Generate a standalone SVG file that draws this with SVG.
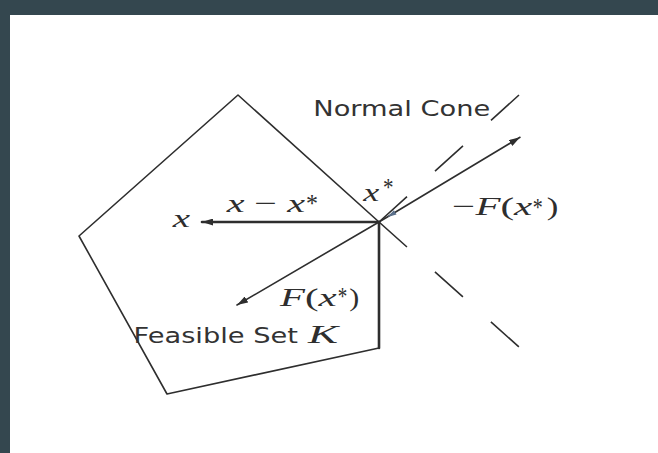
<svg xmlns="http://www.w3.org/2000/svg" width="658" height="453" viewBox="0 0 658 453">
  <style>
    .edge { fill: none; stroke: #2e2e2e; stroke-width: 1.6; stroke-linecap: round; stroke-linejoin: round; }
    .thick { stroke-width: 2.6; }
    .cone { fill: none; stroke: #2e2e2e; stroke-width: 1.6; }
    .math { font-family: "Liberation Serif", "Times New Roman", serif; font-style: italic; font-size: 26px; fill: #2e2e2e; }
    .up { font-style: normal; }
    .star { font-family: "Liberation Serif", "Times New Roman", serif; font-size: 26px; fill: #2e2e2e; }
    .sans { font-family: "DejaVu Sans", Verdana, sans-serif; fill: #333333; }
  </style>
  <defs>
    <marker id="arrow" markerUnits="userSpaceOnUse" markerWidth="11" markerHeight="7" refX="11" refY="3.5" orient="auto">
      <path d="M0,0 L11,3.5 L0,7 Z" fill="#2e2e2e"/>
    </marker>
  </defs>

  <rect x="0" y="0" width="658" height="453" fill="#ffffff"/>
  <g id="frame">
    <rect x="0" y="0" width="658" height="15" fill="#34474f"/>
    <rect x="0" y="0" width="10" height="453" fill="#34474f"/>
  </g>

  <g id="feasible-set">
    <path class="edge" d="M379,222 L238,95 L79,236 L167,394 L379,348"/>
    <path class="edge thick" d="M379,222 L379,348"/>
    <text class="sans" x="133.5" y="343.3" font-size="22" textLength="164.5" lengthAdjust="spacingAndGlyphs">Feasible Set</text>
    <text class="math" x="308" y="343.3" textLength="30" lengthAdjust="spacingAndGlyphs">K</text>
  </g>

  <g id="normal-cone">
    <line class="cone" x1="379" y1="222" x2="519" y2="347" stroke-dasharray="37.5 37.5"/>
    <line class="cone" x1="379" y1="222" x2="519" y2="95" stroke-dasharray="37.8 37.8"/>
    <text class="sans" x="313.3" y="115.7" font-size="20.5" textLength="177" lengthAdjust="spacingAndGlyphs">Normal Cone</text>
  </g>

  <g id="connectors">
    <line class="edge thick" x1="379" y1="222" x2="202" y2="222" marker-end="url(#arrow)"/>
    <line class="edge" x1="379" y1="222" x2="237" y2="305" marker-end="url(#arrow)"/>
    <line class="edge" x1="379" y1="222" x2="520" y2="137.3" marker-end="url(#arrow)"/>
    <polygon points="387.5,217 396.5,214.5 393.9,210.3" fill="#5a6f8a"/>
  </g>

  <g id="labels">
    <text class="math" x="172.7" y="227" textLength="17.3" lengthAdjust="spacingAndGlyphs">x</text>

    <text class="math" x="226.7" y="212.3" textLength="78.3" lengthAdjust="spacingAndGlyphs">x<tspan class="up"> − </tspan>x</text>
    <text class="star" x="306" y="212.2" textLength="12" lengthAdjust="spacingAndGlyphs">*</text>

    <text class="math" x="363.3" y="201" textLength="16" lengthAdjust="spacingAndGlyphs">x</text>
    <text class="star" x="383" y="196.4" textLength="10.5" lengthAdjust="spacingAndGlyphs">*</text>

    <text class="math" x="452.3" y="215" textLength="80" lengthAdjust="spacingAndGlyphs"><tspan class="up">−</tspan>F<tspan class="up">(</tspan>x</text>
    <text class="star" x="532.7" y="216.4" textLength="10" lengthAdjust="spacingAndGlyphs">*</text>
    <text class="math up" x="546.7" y="215" textLength="11.6" lengthAdjust="spacingAndGlyphs">)</text>

    <text class="math" x="280" y="306.3" textLength="56.7" lengthAdjust="spacingAndGlyphs">F<tspan class="up">(</tspan>x</text>
    <text class="star" x="337.7" y="304.7" textLength="9.5" lengthAdjust="spacingAndGlyphs">*</text>
    <text class="math up" x="349.3" y="306.3" textLength="10" lengthAdjust="spacingAndGlyphs">)</text>
  </g>
</svg>
